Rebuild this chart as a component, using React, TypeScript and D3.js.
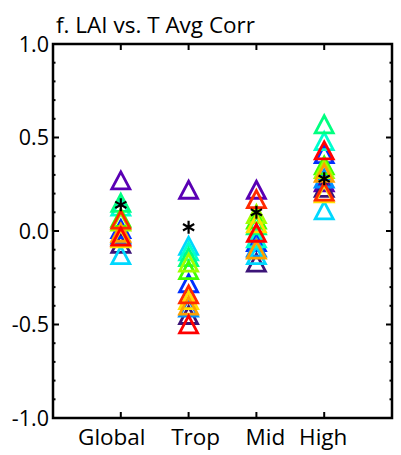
import * as d3 from 'd3';

const regions = ['Global', 'Trop', 'Mid', 'High'];

// one colour per model, in drawing order
const modelColors = [
  '#5a00b4', '#3c1478', '#0030ff', '#0090ff', '#00d8ff', '#00ffd0', '#00ff80',
  '#40ff00', '#a0ff00', '#ffe000', '#ffa000', '#ff2a00', '#ff0000',
];

const globalCorr = [0.26, -0.08, 0.0, -0.03, -0.14, 0.12, 0.14, 0.06, 0.04, -0.05, -0.02, 0.05, -0.04];
const tropCorr = [0.21, -0.46, -0.29, -0.42, -0.09, -0.12, -0.15, -0.22, -0.18, -0.38, -0.41, -0.35, -0.51];
const midCorr = [0.21, -0.18, -0.07, -0.1, -0.14, -0.05, 0.02, 0.05, 0.08, 0.03, -0.11, 0.16, -0.02];
const highCorr = [0.25, 0.22, 0.4, 0.27, 0.1, 0.47, 0.56, 0.34, 0.32, 0.19, 0.3, 0.2, 0.42];
const corrByRegion = [globalCorr, tropCorr, midCorr, highCorr];

const meanCorr = [0.14, 0.02, 0.1, 0.28];

const yTicks = [-1.0, -0.5, 0.0, 0.5, 1.0];

const width = 401;
const height = 455;
const margin = { left: 53, right: 9, top: 44, bottom: 37 };
const font = "'Open Sans', 'Noto Sans', sans-serif";
const labelDx = [-9, 7, 9, -1];

export default function App() {
  const x = d3.scaleLinear().domain([0, 5]).range([margin.left, width - margin.right]);
  const y = d3.scaleLinear().domain([-1, 1]).range([height - margin.bottom, margin.top]);
  const minor = d3.range(-10, 11).map((d) => d / 10);

  const tri = 'M0,-10.5L9,6.5L-9,6.5Z';
  const star = 'M0,-6.5V6.5M-5.6,-3.2L5.6,3.2M-5.6,3.2L5.6,-3.2';

  const x0 = x(0);
  const x1 = x(5);
  const y0 = y(-1);
  const y1 = y(1);

  return (
    <svg width={width} height={height} style={{ position: 'absolute', left: 0, top: 0, background: '#fff' }}>
      <text x={56} y={33} fontFamily={font} fontSize={22.5} fill="#000">
        f. LAI vs. T Avg Corr
      </text>

      {corrByRegion.map((vals, ri) =>
        vals.map((v, mi) => (
          <path
            key={`${ri}-${mi}`}
            d={tri}
            transform={`translate(${x(ri + 1)},${y(v)})`}
            fill="none"
            stroke={modelColors[mi]}
            strokeWidth={2.8}
            strokeLinejoin="miter"
          />
        ))
      )}
      {meanCorr.map((v, i) => (
        <path key={i} d={star} transform={`translate(${x(i + 1)},${y(v)})`} stroke="#000" strokeWidth={2.2} />
      ))}

      {/* frame */}
      <rect x={x0} y={y1} width={x1 - x0} height={y0 - y1} fill="none" stroke="#000" strokeWidth={2.5} />

      {minor.map((t) => {
        const major = yTicks.some((m) => Math.abs(m - t) < 1e-6);
        const len = major ? 6 : 2.5;
        return (
          <g key={t}>
            <line x1={x0} x2={x0 + len} y1={y(t)} y2={y(t)} stroke="#000" strokeWidth={2} />
            <line x1={x1} x2={x1 - len} y1={y(t)} y2={y(t)} stroke="#000" strokeWidth={2} />
          </g>
        );
      })}
      {regions.map((r, i) => (
        <g key={r}>
          <line x1={x(i + 1)} x2={x(i + 1)} y1={y0} y2={y0 - 6} stroke="#000" strokeWidth={2} />
          <line x1={x(i + 1)} x2={x(i + 1)} y1={y1} y2={y1 + 6} stroke="#000" strokeWidth={2} />
          <text x={x(i + 1) + labelDx[i]} y={445} textAnchor="middle" fontFamily={font} fontSize={22.5} fill="#000">
            {r}
          </text>
        </g>
      ))}
      {yTicks.map((t) => (
        <text key={t} x={49} y={y(t) + 7.5} textAnchor="end" fontFamily={font} fontSize={21.5} fill="#000">
          {t.toFixed(1)}
        </text>
      ))}
    </svg>
  );
}
